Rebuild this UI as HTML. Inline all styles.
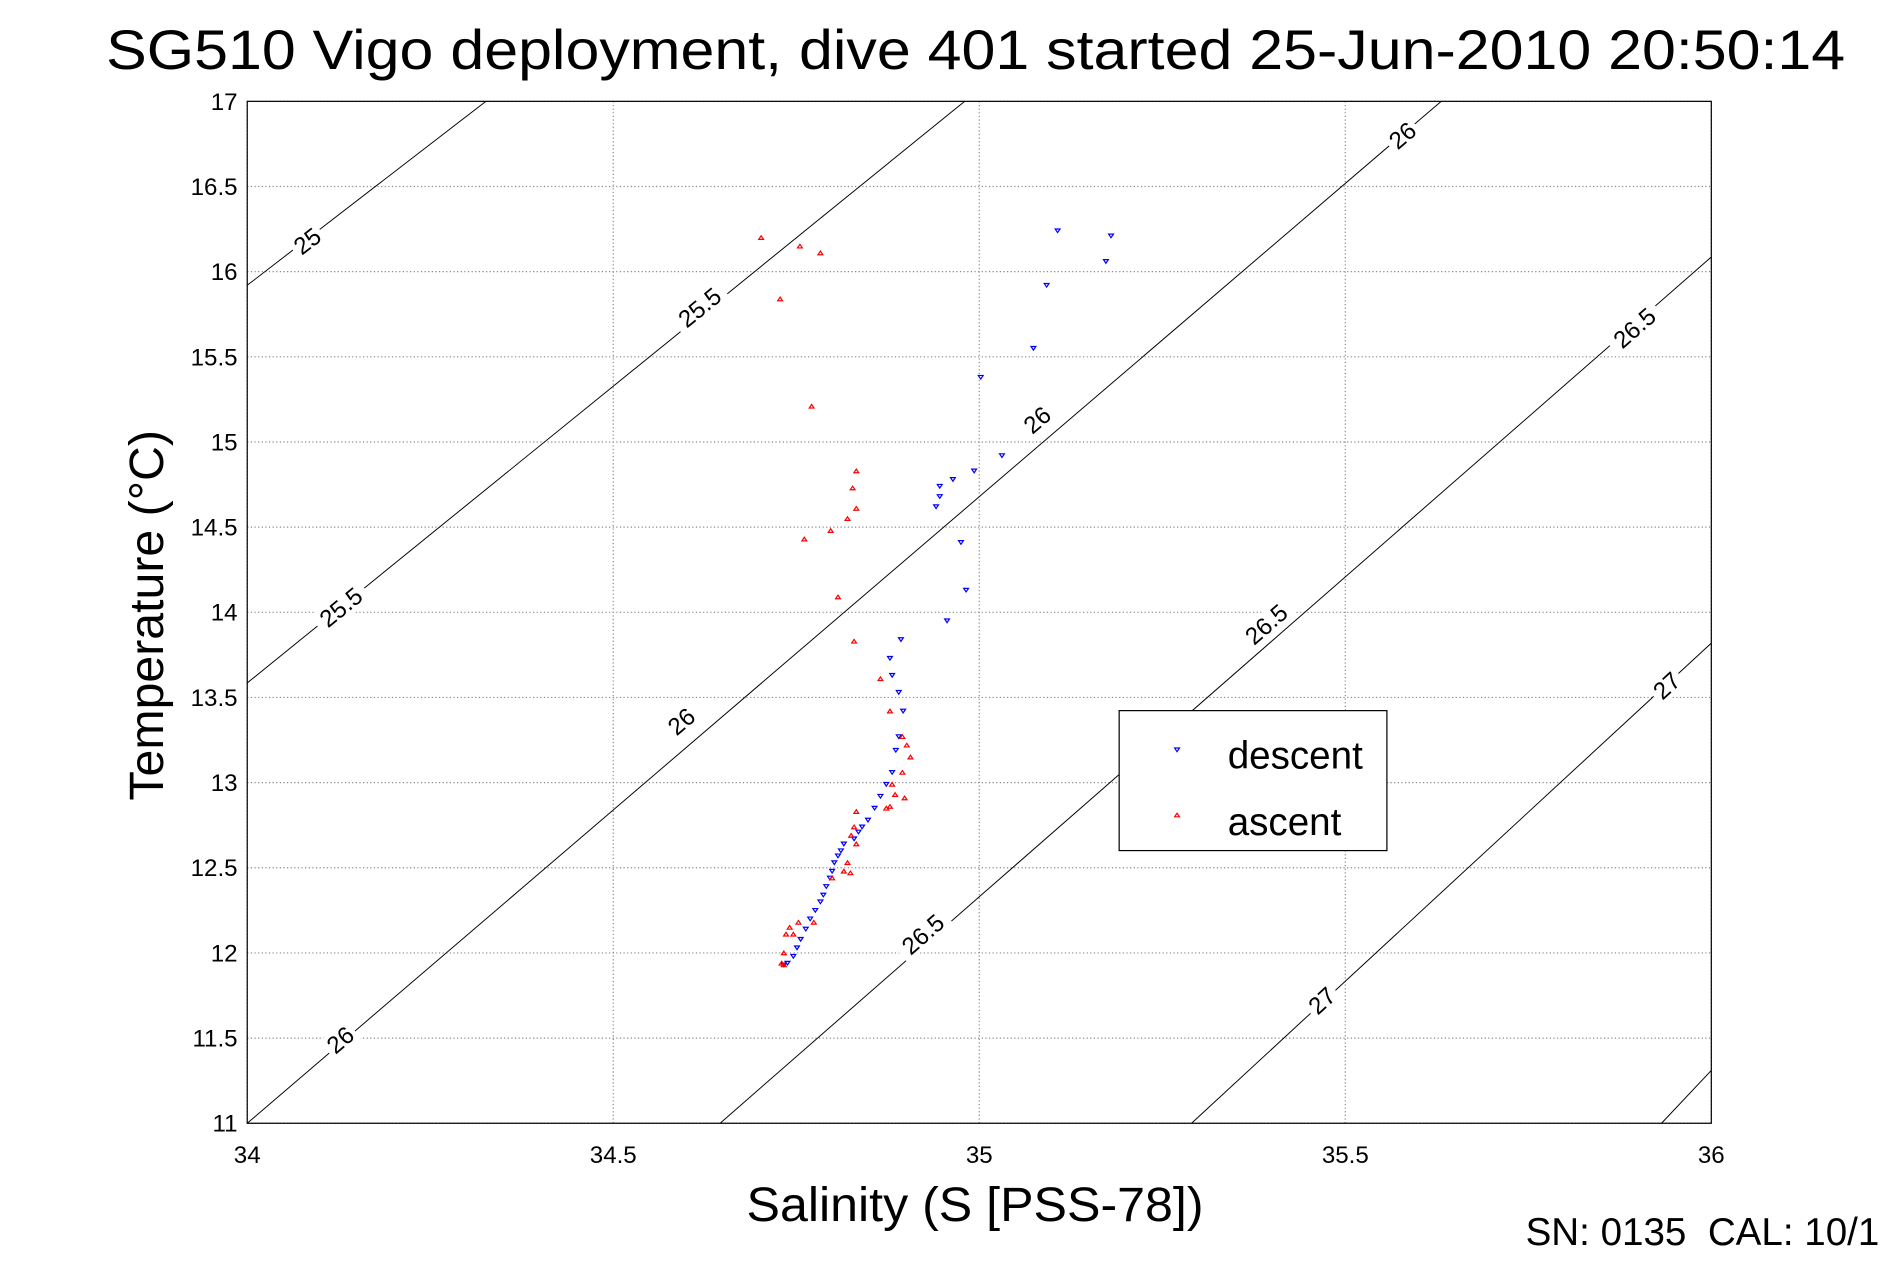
<!DOCTYPE html>
<html><head><meta charset="utf-8"><style>
html,body{margin:0;padding:0;background:#fff;overflow:hidden}
svg{display:block}
text{font-family:"Liberation Sans",sans-serif}
</style></head><body>
<svg id="chart" width="1891" height="1262" viewBox="0 0 1568 1046" preserveAspectRatio="none" xmlns="http://www.w3.org/2000/svg">
<rect x="0" y="0" width="1568" height="1046" fill="#fff"/>
<text x="88" y="57" font-size="46" textLength="1442" lengthAdjust="spacingAndGlyphs">SG510 Vigo deployment, dive 401 started 25-Jun-2010 20:50:14</text>
<g id="grid"></g>
<g id="contours"></g>
<g id="series"></g>
<rect x="205" y="84" width="1214" height="847" fill="none" stroke="#000" stroke-width="1"/>
<g id="ticks"></g>
<text transform="translate(135,510) rotate(-90)" font-size="40" text-anchor="middle">Temperature (°C)</text>
<text x="619" y="1012" font-size="40" textLength="379" lengthAdjust="spacingAndGlyphs">Salinity (S [PSS-78])</text>
<text x="1265" y="1032" font-size="32" xml:space="preserve" style="white-space:pre">SN: 0135  CAL: 10/1</text>
<g>
<rect x="928" y="589" width="222" height="116" fill="#fff" stroke="#000" stroke-width="1"/>
<polygon points="974,620 978,620 976,623" fill="none" stroke="#00f" stroke-width="1"/>
<text x="1018" y="637" font-size="32">descent</text>
<polygon points="974,677 978,677 976,674" fill="none" stroke="#f00" stroke-width="1"/>
<text x="1018" y="692" font-size="32">ascent</text>
</g>
</svg>
<script>
const xTicks=[34,34.5,35,35.5,36];
const xTickLabels=["34","34.5","35","35.5","36"];
const yTicks=[11,11.5,12,12.5,13,13.5,14,14.5,15,15.5,16,16.5,17];
const yTickLabels=["11","11.5","12","12.5","13","13.5","14","14.5","15","15.5","16","16.5","17"];
const descentS=[35.107,35.18,35.173,35.092,35.074,35.002,35.031,34.993,34.964,34.946,34.946,34.941,34.975,34.982,34.956,34.893,34.878,34.881,34.89,34.896,34.89,34.886,34.881,34.873,34.865,34.857,34.848,34.84,34.835,34.829,34.815,34.811,34.807,34.802,34.799,34.796,34.791,34.787,34.783,34.776,34.769,34.763,34.756,34.751,34.746,34.738,34.733];
const descentT=[16.24,16.21,16.06,15.92,15.55,15.38,14.92,14.83,14.78,14.74,14.68,14.62,14.41,14.13,13.95,13.84,13.73,13.63,13.53,13.42,13.27,13.19,13.06,12.99,12.92,12.85,12.78,12.74,12.71,12.67,12.64,12.6,12.57,12.53,12.48,12.44,12.39,12.34,12.3,12.25,12.2,12.14,12.08,12.03,11.98,11.94,11.93];
const ascentS=[34.702,34.755,34.783,34.728,34.771,34.832,34.827,34.832,34.82,34.797,34.761,34.807,34.829,34.865,34.878,34.895,34.901,34.906,34.895,34.881,34.885,34.898,34.878,34.873,34.832,34.829,34.825,34.832,34.82,34.815,34.824,34.799,34.774,34.753,34.746,34.736,34.741,34.733,34.73,34.733];
const ascentT=[16.2,16.15,16.11,15.84,15.21,14.83,14.73,14.61,14.55,14.48,14.43,14.09,13.83,13.61,13.42,13.27,13.22,13.15,13.06,12.99,12.93,12.91,12.86,12.85,12.83,12.74,12.69,12.64,12.53,12.48,12.47,12.44,12.18,12.18,12.11,12.11,12.15,12.0,11.94,11.93];
const contourS1=[34,34,34,34.646,35.29,35.932];
const contourT1=[15.92,13.585,11,11,11,11];
const contourS2=[34.326,34.98,35.631,36,36,36];
const contourT2=[17,17,17,16.086,13.819,11.31];
const labelText=["25","25.5","25.5","26","26","26","26","26.5","26.5","26.5","27","27"];
const labelS=[34.082,34.618,34.128,35.578,35.079,34.593,34.127,35.895,35.392,34.923,35.939,35.468];
const labelT=[16.18,15.79,14.03,16.8,15.13,13.36,11.49,15.67,13.93,12.11,13.57,11.72];
const labelLine=[0,1,1,2,2,2,2,3,3,3,4,4];

const X0=205,X1=1419,Y0=931,Y1=84;
function sx(s){return X0+(s-34)/(36-34)*(X1-X0);}
function ty(t){return Y0-(t-11)/(17-11)*(Y0-Y1);}
const NS="http://www.w3.org/2000/svg";
function mk(tag,attrs,parent){const e=document.createElementNS(NS,tag);for(const k in attrs)e.setAttribute(k,attrs[k]);parent.appendChild(e);return e;}
const grid=document.getElementById('grid'),ticks=document.getElementById('ticks');
xTicks.forEach((v,i)=>{
  const l=mk('line',{x1:sx(v),x2:sx(v),y1:Y1,y2:Y0,stroke:'#888','stroke-width':1,'stroke-dasharray':'1,2'},grid);
  
  
  const t=mk('text',{x:sx(v),y:964,'font-size':20,'text-anchor':'middle'},ticks);
  t.textContent=xTickLabels[i];
  
  
});
yTicks.forEach((v,i)=>{
  const l=mk('line',{x1:X0,x2:X1,y1:ty(v),y2:ty(v),stroke:'#888','stroke-width':1,'stroke-dasharray':'1,2'},grid);
  
  
  const t=mk('text',{x:197,y:ty(v)+7,'font-size':20,'text-anchor':'end'},ticks);
  t.textContent=yTickLabels[i];
  
  
});
const cg=document.getElementById('contours');
contourS1.forEach((s,i)=>{
  const l=mk('line',{x1:sx(s),y1:ty(contourT1[i]),x2:sx(contourS2[i]),y2:ty(contourT2[i]),stroke:'#000','stroke-width':0.8},cg);
  
  
});
labelText.forEach((txt,i)=>{
  const k=labelLine[i];
  const dx=sx(contourS2[k])-sx(contourS1[k]),dy=ty(contourT2[k])-ty(contourT1[k]);
  const ang=Math.atan2(dy,dx)*180/Math.PI;
  const g=mk('g',{transform:`translate(${sx(labelS[i])},${ty(labelT[i])}) rotate(${ang})`},cg);
  
  
  const w=txt.length*11+6;
  mk('rect',{x:-w/2,y:-10,width:w,height:20,fill:'#fff'},g);
  const t=mk('text',{x:0,y:7,'font-size':20,'text-anchor':'middle'},g);
  t.textContent=txt;
});
const sg=document.getElementById('series');
descentS.forEach((s,i)=>{
  const x=sx(s),y=ty(descentT[i]);
  const p=mk('polygon',{points:`${x-2},${y-1.5} ${x+2},${y-1.5} ${x},${y+1.5}`,fill:'none',stroke:'#00f','stroke-width':1},sg);
  
  
});
ascentS.forEach((s,i)=>{
  const x=sx(s),y=ty(ascentT[i]);
  const p=mk('polygon',{points:`${x-2},${y+1.5} ${x+2},${y+1.5} ${x},${y-1.5}`,fill:'none',stroke:'#f00','stroke-width':1},sg);
  
  
});
</script>
</body></html>
